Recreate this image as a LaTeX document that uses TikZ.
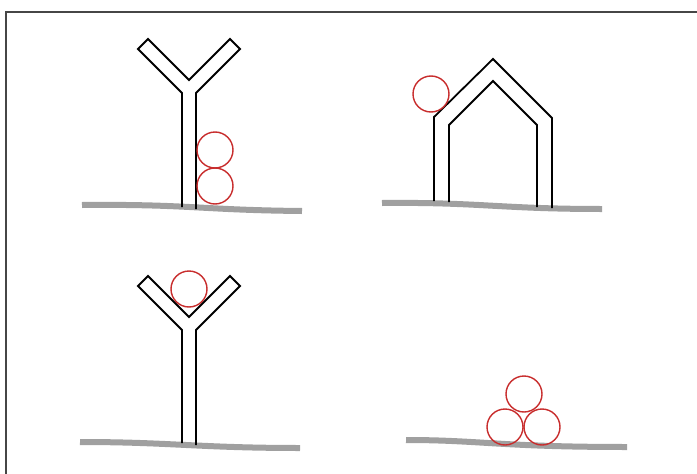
\documentclass[tikz,border=0pt]{standalone}
\usepackage{tikz}
\definecolor{groundgray}{RGB}{160,160,160}
\definecolor{ballred}{RGB}{200,45,45}
\definecolor{framegray}{RGB}{70,70,70}

\begin{document}
\begin{tikzpicture}[x=1pt, y=-1pt,
        ground/.style={line width=6pt, draw=groundgray},
        wall/.style={line width=1.8pt, draw=black},
        ball/.style={line width=1.4pt, draw=ballred}]
        % 画布
        \useasboundingbox (0,0) rectangle (697,474);
        \fill[white] (0,0) rectangle (697,474);
        \draw[line width=2pt, framegray] (6,480) -- (6,12) -- (700,12);

        % 地面
        \draw[ground] (82,205) .. controls (190,204) and (200,210) .. (302,211);
        \draw[ground] (382,203) .. controls (480,202) and (500,209) .. (602,209);
        \draw[ground] (80,442) .. controls (170,442) and (200,448) .. (300,448);
        \draw[ground] (406,440) .. controls (480,440) and (500,447) .. (627,447);

        % 左上: Y 形与两个圆
        \begin{scope}[shift={(189,80)}]
            \draw[wall] (-7,127) -- (-7,13) -- (-51,-31) -- (-41,-41) -- (0,0)
                -- (41,-41) -- (51,-31) -- (7,13) -- (7,129);
        \end{scope}
        \draw[ball] (215,150) circle (18);
        \draw[ball] (215,186) circle (18);

        % 右上: 房子与一个圆
        \coordinate (P1) at (434,201);
        \coordinate (P2) at (434,117);
        \coordinate (P3) at (493,59);
        \coordinate (P4) at (552,118);
        \coordinate (P5) at (552,208);
        \coordinate (Q1) at (449,202);
        \coordinate (Q2) at (449,125);
        \coordinate (Q3) at (493,81);
        \coordinate (Q4) at (537,125);
        \coordinate (Q5) at (537,207);
        \draw[wall] (P1) -- (P2) -- (P3) -- (P4) -- (P5);
        \draw[wall] (Q1) -- (Q2) -- (Q3) -- (Q4) -- (Q5);
        \draw[ball] (431,94) circle (18);

        % 左下: Y 形, 圆在叉口
        \begin{scope}[shift={(189,317)}]
            \draw[wall] (-7,126) -- (-7,13) -- (-51,-31) -- (-41,-41) -- (0,0)
                -- (41,-41) -- (51,-31) -- (7,13) -- (7,128);
        \end{scope}
        \draw[ball] (189,289) circle (18);

        % 右下: 三个圆堆叠
        \draw[ball] (505,427) circle (18);
        \draw[ball] (542,427) circle (18);
        \draw[ball] (524,394) circle (18);
    \end{tikzpicture}
\end{document}
